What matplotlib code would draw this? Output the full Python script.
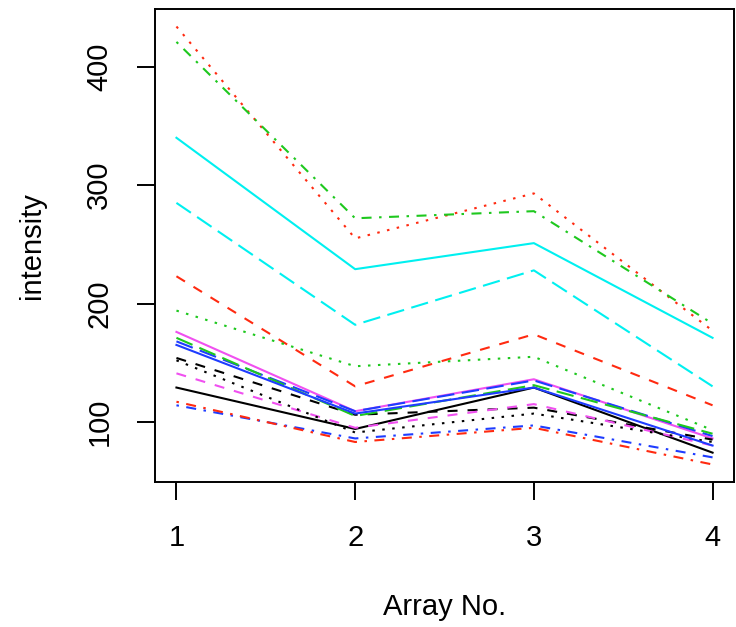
import matplotlib
matplotlib.use("Agg")
import matplotlib.pyplot as plt

plt.rcParams['font.family'] = ['Liberation Sans', 'DejaVu Sans']

arrays = [1, 2, 3, 4]
s1 = [129, 94, 129, 74]
s2 = [223, 130, 174, 114]
s3 = [194, 147, 155, 93]
s4 = [114, 86, 97, 70]
s5 = [285, 182, 228, 130]
s6 = [176, 109, 136, 86]
s7 = [154, 106, 112, 85]
s8 = [434, 255, 293, 177]
s9 = [421, 272, 278, 183]
s10 = [168, 109, 135, 88]
s11 = [340, 229, 251, 171]
s12 = [141, 95, 115, 80]
s13 = [152, 91, 107, 83]
s14 = [117, 83, 95, 64]
s15 = [171, 105, 131, 90]
s16 = [165, 107, 129, 80]
series = [s1, s2, s3, s4, s5, s6, s7, s8, s9, s10, s11, s12, s13, s14, s15, s16]

yticks = [100, 200, 300, 400]

palette = ['black', '#FF2A10', '#1EC81E', '#1E3CFF', '#00F0F0', '#F050F0']
ltys = [None, (4, 4), (1, 3), (1, 3, 4, 3), (7, 3)]

fig = plt.figure(figsize=(7.36, 6.27), dpi=100)
ax = fig.add_axes([155/736, 1 - 482/627, (734 - 155)/736, (482 - 9)/627])

lw = 1.5
unit = 1.8 / lw
for i, s in enumerate(series):
    col = palette[i % 6]
    lt = ltys[i % 5]
    line, = ax.plot(arrays, s, color=col, lw=lw)
    if lt is not None:
        line.set_dashes([u * unit for u in lt])

ax.set_xlim(0.88, 4.12)
ax.set_ylim(49.2, 448.8)
ax.set_xticks(arrays)
ax.set_yticks(yticks)
ax.set_xticklabels([str(a) for a in arrays])
ax.set_yticklabels([str(t) for t in yticks], rotation=90, va='center')
for sp in ax.spines.values():
    sp.set_linewidth(1.4)
ax.tick_params(direction='out', length=13, width=1.4, labelsize=21, pad=17)
ax.tick_params(axis='y', pad=17)
ax.set_xlabel('Array No.', fontsize=21, labelpad=30)
ax.set_ylabel('intensity', fontsize=21, labelpad=28)

fig.savefig('out.png', dpi=100)
